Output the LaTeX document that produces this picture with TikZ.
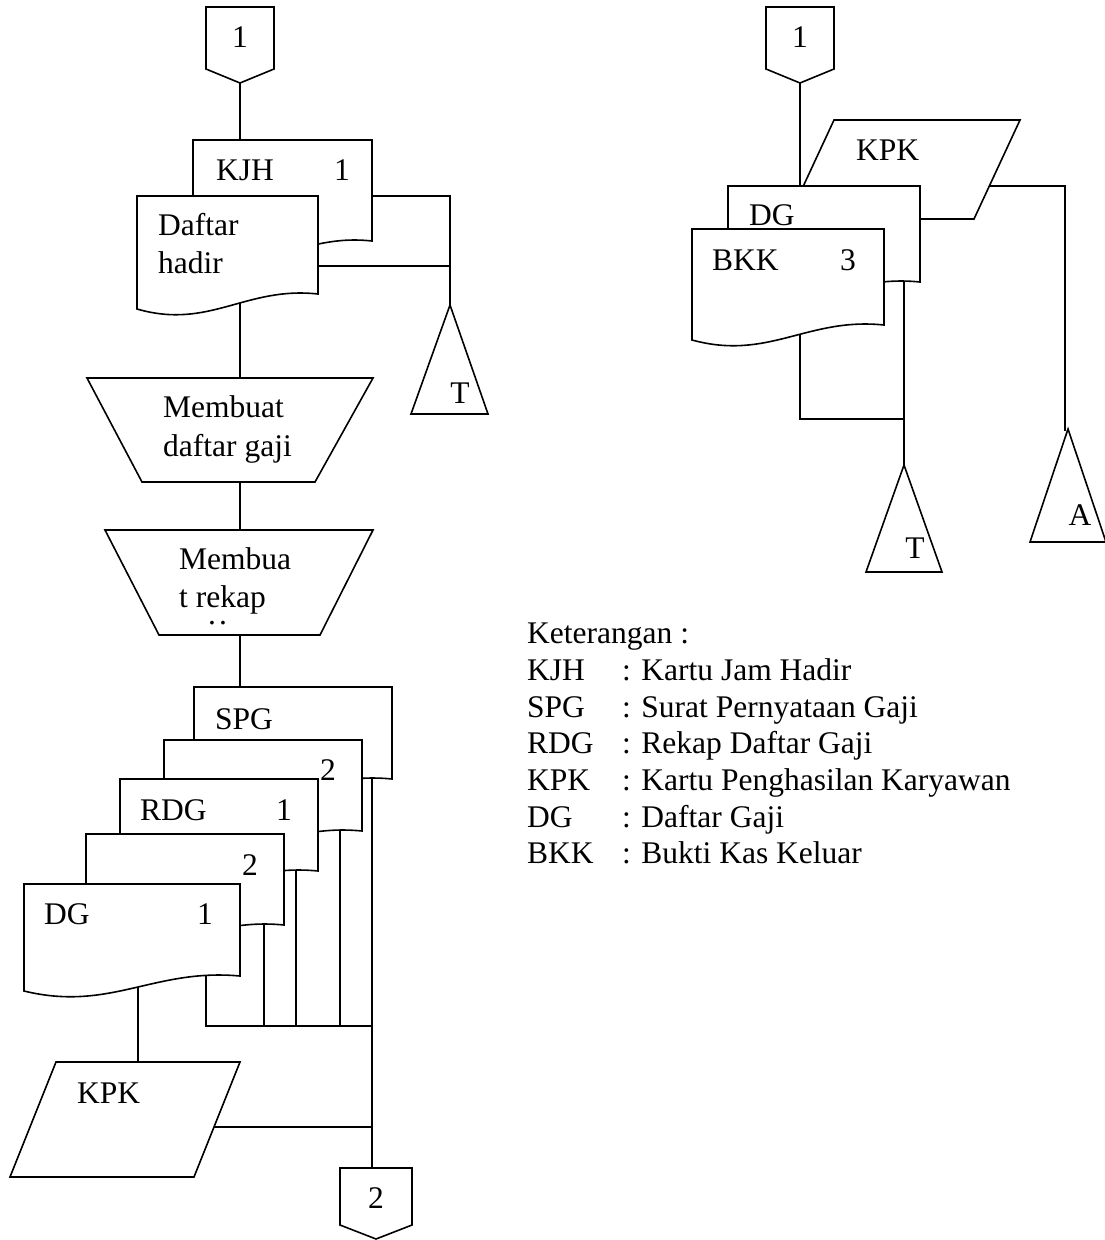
\documentclass[tikz,border=0pt]{standalone}
\usepackage{fontspec}
\setmainfont{Liberation Serif}
\begin{document}
\begin{tikzpicture}[x=1pt,y=-1pt,
  ln/.style={line width=1.6pt, line join=miter},
  shp/.style={line width=1.6pt, fill=white, line join=miter},
  txt/.style={inner sep=0pt, anchor=base west, font=\fontsize{31.5}{37}\selectfont},
  txc/.style={inner sep=0pt, anchor=base, font=\fontsize{31.5}{37}\selectfont}]
\useasboundingbox (0,0) rectangle (1104,1240);
% document shape: left, top, right, bottom-right
\newcommand\docshape[4]{%
  \draw[shp] (#1,#2) -- (#3,#2) -- (#3,#4)
    .. controls ({#1+0.6*(#3-#1)},{#4-8}) and ({#1+0.4*(#3-#1)},{#4+36}) .. (#1,{#4+15}) -- cycle;}
% ---------- coordinates ----------
\coordinate (c1L) at (240,83);
\coordinate (kjhT) at (240,140);
\coordinate (kjhR) at (372,196);
\coordinate (tL1) at (450,196);
\coordinate (tLapex) at (450,305);
\coordinate (dhR) at (318,266);
\coordinate (dhR2) at (450,266);
\coordinate (dhB) at (240,295);
\coordinate (tr1T) at (240,378);
\coordinate (tr1B) at (240,482);
\coordinate (tr2T) at (240,530);
\coordinate (tr2B) at (240,635);
\coordinate (spgT) at (240,687);
\coordinate (spgB) at (372,770);
\coordinate (c2T) at (372,1168);
\coordinate (d2B) at (340,820);
\coordinate (d2J) at (340,1026);
\coordinate (rdgB) at (296,860);
\coordinate (rdgJ) at (296,1026);
\coordinate (d4B) at (264,915);
\coordinate (d4J) at (264,1026);
\coordinate (dgB) at (206,960);
\coordinate (dgJ) at (206,1026);
\coordinate (busJ) at (372,1026);
\coordinate (dgB2) at (138,970);
\coordinate (kpkT) at (138,1062);
\coordinate (kpkR) at (214,1127);
\coordinate (kpkJ) at (372,1127);
% right column
\coordinate (c1R) at (800,83);
\coordinate (dgrT) at (800,186);
\coordinate (kpkrR) at (989,186);
\coordinate (aC) at (1065,186);
\coordinate (aApex) at (1065,431);
\coordinate (dgrB) at (904,270);
\coordinate (tRapex) at (904,465);
\coordinate (bkkB) at (800,330);
\coordinate (bkkC) at (800,419);
\coordinate (bkkJ) at (904,419);
% ---------- connectors ----------
\draw[ln] (c1L) -- (kjhT);
\draw[ln] (kjhR) -- (tL1) -- (tLapex);
\draw[ln] (dhR) -- (dhR2);
\draw[ln] (dhB) -- (tr1T);
\draw[ln] (tr1B) -- (tr2T);
\draw[ln] (tr2B) -- (spgT);
\draw[ln] (spgB) -- (c2T);
\draw[ln] (d2B) -- (d2J);
\draw[ln] (rdgB) -- (rdgJ);
\draw[ln] (d4B) -- (d4J);
\draw[ln] (dgB) -- (dgJ) -- (busJ);
\draw[ln] (dgB2) -- (kpkT);
\draw[ln] (kpkR) -- (kpkJ);
\draw[ln] (c1R) -- (dgrT);
\draw[ln] (kpkrR) -- (aC) -- (aApex);
\draw[ln] (dgrB) -- (tRapex);
\draw[ln] (bkkB) -- (bkkC) -- (bkkJ);
% ---------- shapes, left ----------
\draw[shp] (206,7) -- (274,7) -- (274,69) -- (240,83) -- (206,69) -- cycle;
\docshape{193}{140}{372}{241}
\docshape{137}{196}{318}{294}
\draw[shp] (450,305) -- (488,414) -- (411,414) -- cycle;
\draw[shp] (87,378) -- (373,378) -- (315,482) -- (142,482) -- cycle;
\draw[shp] (105,530) -- (373,530) -- (320,635) -- (159,635) -- cycle;
\docshape{194}{687}{392}{779}
\docshape{164}{740}{362}{831}
\docshape{120}{779}{318}{871}
\docshape{86}{834}{284}{925}
\docshape{24}{884}{240}{976}
\draw[shp] (56,1062) -- (240,1062) -- (194,1177) -- (10,1177) -- cycle;
\draw[shp] (340,1168) -- (412,1168) -- (412,1225) -- (376,1239) -- (340,1225) -- cycle;
% ---------- shapes, right ----------
\draw[shp] (766,7) -- (834,7) -- (834,69) -- (800,83) -- (766,69) -- cycle;
\draw[shp] (834,120) -- (1020,120) -- (974,219) -- (788,219) -- cycle;
\docshape{728}{186}{920}{282}
\docshape{692}{229}{884}{325}
\draw[shp] (904,465) -- (942,572) -- (866,572) -- cycle;
\draw[shp] (1068,429) -- (1106,542) -- (1030,542) -- cycle;
% ---------- texts ----------
\node[txc] (t1L) at (240,47) {1};
\node[txt] (tKJH) at (216,180) {KJH};
\node[txc] (tKJH1) at (342,180) {1};
\node[txt] (tDaftar) at (158,235) {Daftar};
\node[txt] (tHadir) at (158,273) {hadir};
\node[txc] (tTL) at (460,403) {T};
\node[txt] (tM1) at (163,417) {Membuat};
\node[txt] (tM2) at (163,456) {daftar gaji};
\node[txt] (tR1) at (179,569) {Membua};
\node[txt] (tR2) at (179,607) {t rekap};
\node[txt] (tR3) at (208,624) {.\kern3pt.};
\node[txt] (tSPG) at (215,729) {SPG};
\node[txc] (tD2) at (328,780) {2};
\node[txt] (tRDG) at (140,820) {RDG};
\node[txc] (tRDG1) at (284,820) {1};
\node[txc] (tD4) at (250,875) {2};
\node[txt] (tDG) at (44,924) {DG};
\node[txc] (tDG1) at (205,924) {1};
\node[txt] (tKPK) at (77,1103) {KPK};
\node[txc] (tC2) at (376,1208) {2};
\node[txc] (t1R) at (800,47) {1};
\node[txt] (tKPKr) at (856,160) {KPK};
\node[txt] (tDGr) at (749,225) {DG};
\node[txt] (tBKK) at (712,270) {BKK};
\node[txc] (tBKK3) at (848,270) {3};
\node[txc] (tTR) at (915,558) {T};
\node[txc] (tA) at (1080,525) {A};
% ---------- legend ----------
\node[txt] (k0) at (527,643) {Keterangan :};
\node[txt] (k1a) at (527,680) {KJH};  \node[txt] (k1b) at (622,680) {: Kartu Jam Hadir};
\node[txt] (k2a) at (527,717) {SPG};  \node[txt] (k2b) at (622,717) {: Surat Pernyataan Gaji};
\node[txt] (k3a) at (527,753) {RDG};  \node[txt] (k3b) at (622,753) {: Rekap Daftar Gaji};
\node[txt] (k4a) at (527,790) {KPK};  \node[txt] (k4b) at (622,790) {: Kartu Penghasilan Karyawan};
\node[txt] (k5a) at (527,827) {DG};   \node[txt] (k5b) at (622,827) {: Daftar Gaji};
\node[txt] (k6a) at (527,863) {BKK};  \node[txt] (k6b) at (622,863) {: Bukti Kas Keluar};
\end{tikzpicture}
\end{document}
